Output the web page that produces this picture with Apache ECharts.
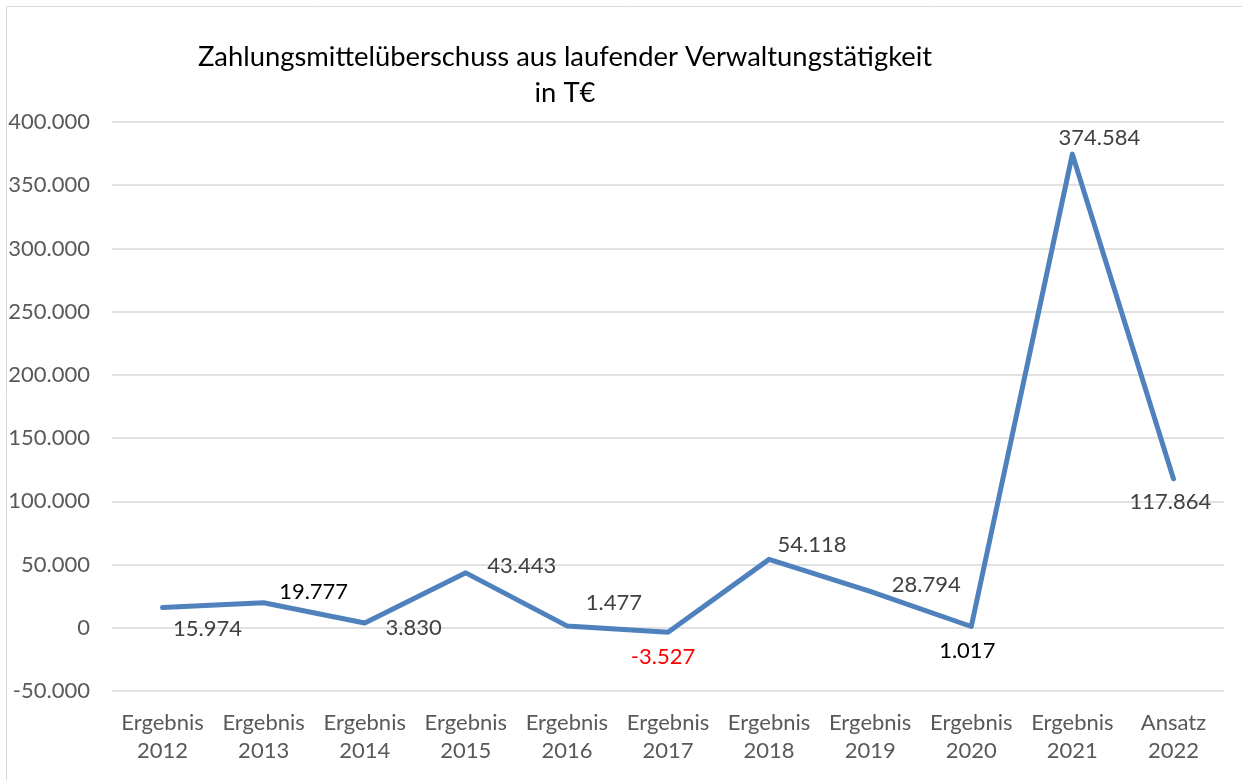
<!DOCTYPE html>
<html>
<head>
<meta charset="utf-8">
<script src="https://cdn.jsdelivr.net/npm/echarts@6/dist/echarts.min.js"></script>
<style>
  html, body { margin: 0; padding: 0; background: #fff; }
  #chart { width: 1242px; height: 780px; }
</style>
</head>
<body>
<div id="chart"></div>
<script>
// Zahlungsmittelüberschuss aus laufender Verwaltungstätigkeit (T€)
const categories = [
  'Ergebnis\n2012', 'Ergebnis\n2013', 'Ergebnis\n2014', 'Ergebnis\n2015',
  'Ergebnis\n2016', 'Ergebnis\n2017', 'Ergebnis\n2018', 'Ergebnis\n2019',
  'Ergebnis\n2020', 'Ergebnis\n2021', 'Ansatz\n2022'
];
const values = [15974, 19777, 3830, 43443, 1477, -3527, 54118, 28794, 1017, 374584, 117864];

// label placement per point, offset from the point in px
const labelOffsets = [
  [45, 21], [50, -11], [49, 5], [56, -7], [47, -23], [-5, 25],
  [43, -14], [56, -6], [-4, 24], [27, -16], [-3, 23]
];
const labelColors = [
  '#404040', '#000000', '#404040', '#404040', '#404040', '#ff0000',
  '#404040', '#404040', '#000000', '#404040', '#404040'
];

const FONT = 'Lato, "Open Sans", sans-serif';

function fmtDE(v) {
  const neg = v < 0;
  const s = String(Math.abs(Math.round(v))).replace(/\B(?=(\d{3})+(?!\d))/g, '.');
  return (neg ? '-' : '') + s;
}

const seriesData = values.map((v, i) => ({
  value: v,
  label: {
    offset: labelOffsets[i],
    color: labelColors[i]
  }
}));

const chart = echarts.init(document.getElementById('chart'), null, { renderer: 'canvas' });
chart.setOption({
  backgroundColor: '#ffffff',
  animation: false,
  graphic: [{
    type: 'rect',
    shape: { x: 6.5, y: 6.5, width: 1240, height: 790 },
    style: { fill: 'none', stroke: '#d9d9d9', lineWidth: 1 },
    silent: true
  }],
  title: {
    text: 'Zahlungsmittelüberschuss aus laufender Verwaltungstätigkeit\nin T€',
    left: 560,
    top: 34,
    textAlign: 'center',
    textStyle: {
      fontFamily: FONT,
      fontSize: 27.4,
      fontWeight: 'normal',
      color: '#000000',
      lineHeight: 36
    }
  },
  grid: { left: 112, right: 18, top: 122, bottom: 89, containLabel: false },
  xAxis: {
    type: 'category',
    data: categories,
    boundaryGap: true,
    axisLine: { show: false },
    axisTick: { show: false },
    axisLabel: {
      interval: 0,
      margin: 18,
      fontFamily: FONT,
      fontSize: 22,
      lineHeight: 28,
      color: '#595959'
    }
  },
  yAxis: {
    type: 'value',
    min: -50000,
    max: 400000,
    interval: 50000,
    axisLine: { show: false },
    axisTick: { show: false },
    splitLine: { lineStyle: { color: '#d9d9d9', width: 1.5 } },
    axisLabel: {
      margin: 22,
      fontFamily: FONT,
      fontSize: 22,
      color: '#595959',
      formatter: fmtDE
    }
  },
  series: [{
    type: 'line',
    data: seriesData,
    symbol: 'circle',
    symbolSize: 1,
    showSymbol: true,
    itemStyle: { color: '#4f81bd' },
    lineStyle: { color: '#4f81bd', width: 5, cap: 'round', join: 'round' },
    label: {
      show: true,
      position: 'inside',
      fontFamily: FONT,
      fontSize: 22,
      formatter: p => fmtDE(p.value)
    }
  }]
});
</script>
</body>
</html>
